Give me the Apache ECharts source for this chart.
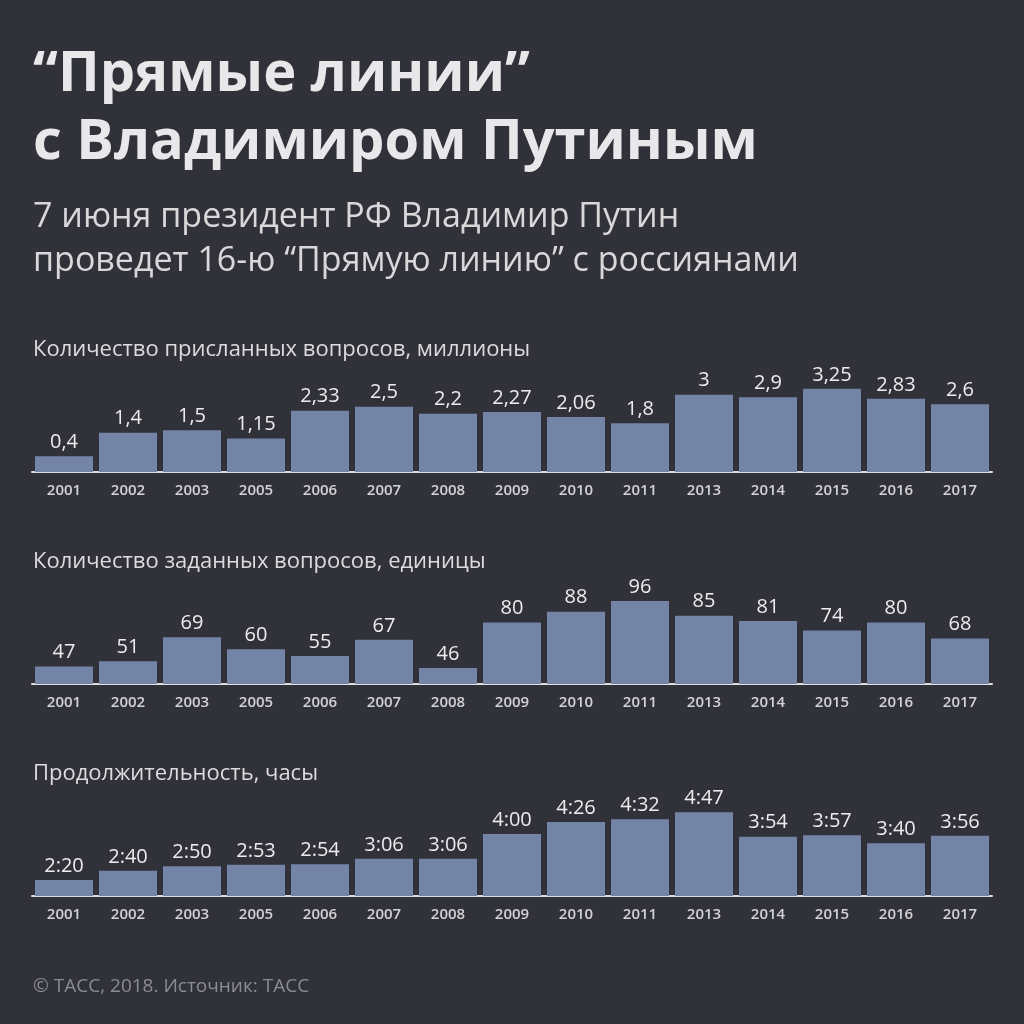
<!DOCTYPE html>
<html><head><meta charset="utf-8">
<script src="https://cdn.jsdelivr.net/npm/echarts@6/dist/echarts.min.js"></script>
<style>html,body{margin:0;padding:0;background:#313239}#c{width:1024px;height:1024px}</style>
</head><body><div id="c"></div>
<script>
const years = ['2001','2002','2003','2005','2006','2007','2008','2009','2010','2011','2013','2014','2015','2016','2017'];
const sentMillions = [0.4,1.4,1.5,1.15,2.33,2.5,2.2,2.27,2.06,1.8,3,2.9,3.25,2.83,2.6];
const askedCount = [47,51,69,60,55,67,46,80,88,96,85,81,74,80,68];
const durationLabels = ['2:20','2:40','2:50','2:53','2:54','3:06','3:06','4:00','4:26','4:32','4:47','3:54','3:57','3:40','3:56'];
const durationMinutes = durationLabels.map(s => { const p = s.split(':'); return (+p[0]) * 60 + (+p[1]); });

const FONT = 'Open Sans';
const BAR = '#7384a7';
const chart = echarts.init(document.getElementById('c'));

const baselines = [472, 684, 896];
const H = 90;
const ranges = [[-0.26, 3.54], [34, 101.2], [105.3, 300.7]];
const series = [sentMillions, askedCount, durationMinutes];
const fmt = [
  p => String(p.value).replace('.', ','),
  p => String(p.value),
  p => durationLabels[p.dataIndex]
];

const grids = [], xAxes = [], yAxes = [], ser = [];
for (let i = 0; i < 3; i++) {
  grids.push({left: 32, width: 960, top: baselines[i] - H, height: H});
  xAxes.push({
    type: 'category', gridIndex: i, data: years,
    axisLine: {show: true, onZero: false, lineStyle: {color: '#dcdde0', width: 2}},
    axisTick: {show: false},
    axisLabel: {color: '#d2d3d6', fontFamily: FONT, fontSize: 15, fontWeight: 600, margin: 11}
  });
  yAxes.push({type: 'value', gridIndex: i, min: ranges[i][0], max: ranges[i][1], startValue: ranges[i][0], show: false, splitLine: {show: false}});
  ser.push({
    type: 'bar', xAxisIndex: i, yAxisIndex: i, data: series[i],
    barWidth: 58,
    itemStyle: {color: BAR},
    label: {show: true, position: 'top', distance: 4, color: '#ececee', fontFamily: FONT, fontSize: 20, fontWeight: 500, formatter: fmt[i]},
    silent: true, animation: false
  });
}

chart.setOption({
  backgroundColor: '#313239',
  animation: false,
  title: [
    {text: '“Прямые линии”\nс Владимиром Путиным', left: 28, top: 36,
     textStyle: {color: '#e8e8ea', fontFamily: FONT, fontSize: 56, fontWeight: 700, lineHeight: 68}},
    {text: '7 июня президент РФ Владимир Путин\nпроведет 16-ю “Прямую линию” с россиянами', left: 28, top: 190,
     textStyle: {color: '#d8d8db', fontFamily: FONT, fontSize: 34, fontWeight: 400, lineHeight: 44}},
    {text: 'Количество присланных вопросов, миллионы', left: 28, top: 334,
     textStyle: {color: '#dcdcdf', fontFamily: FONT, fontSize: 22, fontWeight: 400}},
    {text: 'Количество заданных вопросов, единицы', left: 28, top: 546,
     textStyle: {color: '#dcdcdf', fontFamily: FONT, fontSize: 22, fontWeight: 400}},
    {text: 'Продолжительность, часы', left: 28, top: 758,
     textStyle: {color: '#dcdcdf', fontFamily: FONT, fontSize: 22, fontWeight: 400}},
    {text: '© ТАСС, 2018. Источник: ТАСС', left: 28, top: 972,
     textStyle: {color: '#8b8c92', fontFamily: FONT, fontSize: 19, fontWeight: 400}}
  ],
  grid: grids, xAxis: xAxes, yAxis: yAxes, series: ser
});
</script></body></html>
